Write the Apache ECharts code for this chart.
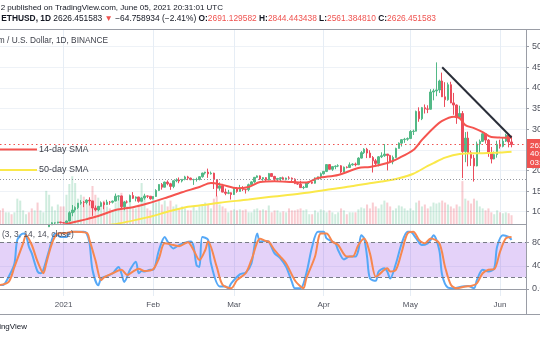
<!DOCTYPE html>
<html><head><meta charset="utf-8">
<script src="https://cdn.jsdelivr.net/npm/echarts@6/dist/echarts.min.js"></script>
<style>html,body{margin:0;padding:0;background:#fff}#c{width:540px;height:340px}</style>
</head><body><div id="c"></div>
<script>
// ---- Daily OHLC, 2020-12-10 .. 2021-06-05 ----
const opens = [
573,560,545,568,590,586,589,636,644,654,659,639,609,634,584,612,626,636,683,731,731,751,
737,729,774,975,1040,1100,1208,1225,1224,1281,1262,1090,1043,1130,1218,1171,1233,1230,1257,1377,1382,1121,1236,1234,1392,1324,1357,1253,1332,1382,1376,
1314,1369,1515,1660,1594,1718,1677,1614,1750,1769,1743,1785,1843,1815,1776,1781,1781,1848,1937,1960,1919,1935,1781,1570,1626,1475,1446,1459,
1416,1564,1492,1575,1541,1533,1654,1723,1834,1868,1793,1826,1772,1924,1855,1788,1806,1823,1782,1817,1813,1788,1681,1670,1584,1590,1703,1716,1691,1817,1846,
1919,1977,2142,2028,2093,2107,2113,1964,2080,2072,2136,2155,2139,2299,2432,2514,2422,2315,2235,2171,2331,2357,2397,2364,2211,2315,2535,2662,2747,2757,
2773,2945,2952,3431,3253,3522,3492,3484,3902,3928,3952,4168,3785,3715,4079,3638,3587,3282,3380,2460,2784,2430,2296,2110,2643,2706,2888,2736,2421,2278,2386,
2633,2584,2711,2856,2691];
const closes = [
560,545,568,590,586,589,636,644,654,659,639,609,634,584,612,626,636,683,731,731,751,737,
729,774,975,1040,1100,1208,1225,1224,1281,1262,1090,1043,1130,1218,1171,1233,1230,1257,1377,1382,1121,1236,1234,1392,1324,1357,1253,1332,1382,1376,1314,
1369,1515,1660,1594,1718,1677,1614,1750,1769,1743,1785,1843,1815,1776,1781,1781,1848,1937,1960,1919,1935,1781,1570,1626,1475,1446,1459,1416,
1564,1492,1575,1541,1533,1654,1723,1834,1868,1793,1826,1772,1924,1855,1788,1806,1823,1782,1817,1813,1788,1681,1670,1584,1590,1703,1716,1691,1817,1846,1919,
1977,2142,2028,2093,2107,2113,1964,2080,2072,2136,2155,2139,2299,2432,2514,2422,2315,2235,2171,2331,2357,2397,2364,2211,2315,2535,2662,2747,2757,2773,
2945,2952,3431,3253,3522,3492,3484,3902,3928,3952,4168,3785,3715,4079,3638,3587,3282,3380,2460,2784,2430,2296,2110,2643,2706,2888,2736,2421,2278,2386,2633,
2584,2711,2856,2691,2626];
const highs = [
576,562,573,597,592,594,638,676,662,667,660,647,637,639,614,629,647,703,745,737,753,754,
749,787,1011,1162,1130,1210,1280,1260,1300,1350,1262,1150,1140,1250,1245,1290,1260,1270,1440,1395,1390,1260,1275,1415,1475,1370,1360,1350,1435,1390,1380,
1375,1545,1665,1695,1730,1760,1700,1760,1810,1830,1790,1870,1870,1825,1800,1825,1860,1945,1967,2045,1975,1945,1785,1710,1675,1560,1530,1470,
1570,1600,1650,1620,1545,1680,1740,1840,1880,1880,1840,1840,1940,1930,1870,1820,1835,1850,1825,1860,1830,1810,1720,1750,1625,1710,1720,1730,1830,1850,1950,
1990,2150,2145,2100,2120,2150,2130,2095,2100,2195,2175,2190,2320,2470,2540,2547,2490,2350,2280,2350,2440,2640,2400,2380,2360,2550,2680,2760,2790,2800,
2980,2990,3450,3530,3540,3600,3580,3970,3980,4620,4200,4372,4140,4130,4150,3880,3600,3570,3440,2930,2940,2480,2380,2700,2750,2920,2890,2760,2570,2460,2720,
2745,2800,2890,2860,2844];
const lows = [
545,536,541,566,578,570,583,628,627,645,621,600,588,564,579,600,621,628,681,694,717,715,
717,715,768,890,986,1064,1168,1110,1180,1150,900,1008,1010,1115,1060,1160,1170,1200,1250,1270,1070,1035,1200,1230,1310,1250,1220,1250,1290,1330,1290,
1300,1360,1500,1535,1590,1640,1530,1570,1715,1690,1710,1760,1765,1765,1650,1730,1760,1825,1900,1820,1900,1550,1370,1510,1470,1400,1425,1295,
1405,1460,1485,1500,1440,1495,1640,1700,1820,1770,1750,1730,1760,1840,1730,1740,1730,1770,1760,1800,1740,1670,1650,1580,1545,1590,1670,1670,1680,1780,1780,
1900,1960,2020,1990,2030,2080,1930,1960,2050,2060,2115,2100,2130,2290,2400,2300,2300,1950,2100,2100,2300,2330,2000,2180,2150,2305,2530,2580,2670,2720,
2770,2860,2950,3180,3220,3380,3390,3480,3700,3800,3880,3780,3540,3690,3630,3350,3130,3280,1815,2200,2100,2110,1730,2100,2400,2690,2650,2330,2170,2270,2310,
2530,2560,2690,2560,2561];
const volumes = [
14,16,12,12,10,12,26,24,14,10,12,16,14,22,14,12,34,30,18,14,20,18,
18,30,41,49,42,26,30,28,22,24,39,30,27,20,24,18,16,14,22,29,32,24,18,22,16,16,20,42,27,16,14,
27,22,24,20,24,18,24,18,20,16,18,16,14,14,18,14,18,20,22,20,16,26,29,20,18,16,12,14,
15,14,15,14,15,12,12,15,16,14,15,14,19,12,14,14,12,13,12,16,14,14,15,16,14,15,10,10,14,12,15,
14,12,14,12,10,12,16,14,10,12,12,12,15,17,16,20,16,22,18,16,20,24,22,18,14,16,19,18,16,14,
16,14,22,24,18,20,16,18,22,21,22,24,22,20,18,16,20,18,44,26,24,21,26,24,18,16,14,16,12,10,14,
12,11,12,11,9];

// ---- moving averages ----
const sma14 = [['2020-12-20',590],['2020-12-30',650],['2021-01-03',720],['2021-01-09',820],['2021-01-13',895],
['2021-01-19',1040],['2021-01-25',1110],['2021-01-30',1200],['2021-02-05',1330],['2021-02-11',1470],['2021-02-17',1600],
['2021-02-21',1695],['2021-02-25',1650],['2021-03-02',1570],['2021-03-06',1600],['2021-03-10',1720],['2021-03-15',1740],
['2021-03-21',1720],['2021-03-26',1705],['2021-03-30',1815],['2021-04-06',1890],['2021-04-13',2060],['2021-04-17',2085],
['2021-04-23',2180],['2021-04-27',2300],['2021-05-02',2495],['2021-05-05',2740],['2021-05-09',3030],['2021-05-12',3200],
['2021-05-16',3300],['2021-05-18',3270],['2021-05-20',3100],['2021-05-23',3025],['2021-05-26',2930],['2021-05-29',2810],
['2021-06-01',2800],['2021-06-05',2790]];
const sma50 = [['2020-12-30',560],['2021-01-18',690],['2021-01-31',880],['2021-02-06',1000],['2021-02-13',1120],
['2021-02-17',1150],['2021-02-24',1218],['2021-03-06',1295],['2021-03-13',1355],['2021-03-24',1440],['2021-04-04',1550],
['2021-04-10',1610],['2021-04-16',1680],['2021-04-21',1730],['2021-04-27',1810],['2021-05-02',1920],['2021-05-07',2110],
['2021-05-09',2180],['2021-05-13',2310],['2021-05-18',2400],['2021-05-25',2420],['2021-06-01',2435],['2021-06-05',2455]];
const trendLine = [['2021-05-12',4500],['2021-06-05',2800]];
const lastPrice = 2626.45;
const supportLevel = 1775;
const priceTicks = [1000,1500,2000,2500,3000,3500,4000,4500,5000];

// ---- Stoch RSI (3,3,14,14) ----
const stochK = [['2020-12-10',6.6],['2020-12-11',6.6],['2020-12-13',21],['2020-12-15',44],['2020-12-16',85],['2020-12-18',96],
['2020-12-19',93],['2020-12-20',73],['2020-12-21',61.5],['2020-12-23',30],['2020-12-24',27],['2020-12-25',33],['2020-12-27',67],
['2020-12-29',96],['2020-12-30',93],['2020-12-31',90],['2021-01-02',90],['2021-01-03',97],['2021-01-05',99],['2021-01-08',99],
['2021-01-09',96],['2021-01-10',79],['2021-01-11',33],['2021-01-13',6],['2021-01-14',18],['2021-01-16',22],['2021-01-18',27],
['2021-01-20',38],['2021-01-21',27],['2021-01-22',12],['2021-01-24',33],['2021-01-26',47],['2021-01-27',27],['2021-01-28',31],
['2021-01-29',30],['2021-01-31',33],['2021-02-01',33],['2021-02-03',67],['2021-02-05',90],['2021-02-06',82],['2021-02-08',70],
['2021-02-10',76],['2021-02-12',80],['2021-02-14',82],['2021-02-15',73],['2021-02-16',41],['2021-02-17',38],['2021-02-18',90],
['2021-02-20',85],['2021-02-21',44],['2021-02-24',4],['2021-02-26',4],['2021-02-27',1],['2021-02-28',9.5],['2021-03-03',25],
['2021-03-05',28],['2021-03-07',44],['2021-03-09',96],['2021-03-10',82],['2021-03-12',83],['2021-03-13',82],['2021-03-15',61.5],
['2021-03-17',53],['2021-03-19',38],['2021-03-21',12],['2021-03-22',1],['2021-03-24',1],['2021-03-26',27],['2021-03-28',73],
['2021-03-30',99],['2021-04-01',99],['2021-04-02',87.5],['2021-04-05',79],['2021-04-06',67],['2021-04-08',51],['2021-04-10',56],
['2021-04-12',56],['2021-04-13',67],['2021-04-14',93],['2021-04-15',87.5],['2021-04-16',56],['2021-04-17',18],['2021-04-19',14],
['2021-04-20',30],['2021-04-22',35.5],['2021-04-23',30],['2021-04-24',18],['2021-04-26',44],['2021-04-28',79],['2021-04-30',99],
['2021-05-01',99],['2021-05-03',87.5],['2021-05-05',76],['2021-05-07',79],['2021-05-08',85],['2021-05-09',93],['2021-05-11',67],
['2021-05-12',24],['2021-05-14',2],['2021-05-16',1],['2021-05-19',4],['2021-05-21',5],['2021-05-23',1],['2021-05-24',15],
['2021-05-26',33],['2021-05-28',30],['2021-05-30',35.5],['2021-05-31',73],['2021-06-02',93],['2021-06-04',90],['2021-06-05',85]];
const stochD = [['2020-12-10',6.6],['2020-12-13',12],['2020-12-15',38],['2020-12-18',79],['2020-12-19',93],['2020-12-21',76],
['2020-12-23',47],['2020-12-25',27],['2020-12-26',44],['2020-12-28',79],['2020-12-30',96],['2021-01-02',97],['2021-01-04',99],
['2021-01-09',97],['2021-01-10',84],['2021-01-12',50],['2021-01-14',15],['2021-01-15',20],['2021-01-18',27],['2021-01-21',33],
['2021-01-23',24],['2021-01-25',30],['2021-01-27',35],['2021-01-29',31],['2021-02-01',34],['2021-02-03',53],['2021-02-05',79],
['2021-02-08',76],['2021-02-10',74],['2021-02-13',81],['2021-02-15',67],['2021-02-17',50],['2021-02-19',67],['2021-02-20',82],
['2021-02-23',38],['2021-02-25',7],['2021-02-28',1],['2021-03-02',15],['2021-03-05',27],['2021-03-07',50],['2021-03-10',87],
['2021-03-12',83],['2021-03-13',82],['2021-03-15',67],['2021-03-17',56],['2021-03-19',44],['2021-03-22',15],['2021-03-24',4],
['2021-03-25',1],['2021-03-26',18],['2021-03-29',56],['2021-03-31',96],['2021-04-02',96],['2021-04-04',82],['2021-04-06',76],
['2021-04-09',56],['2021-04-11',56],['2021-04-13',76],['2021-04-15',87.5],['2021-04-17',61.5],['2021-04-19',21],['2021-04-20',24],
['2021-04-23',35.5],['2021-04-24',30],['2021-04-26',33],['2021-04-28',64],['2021-04-30',96],['2021-05-02',99],['2021-05-04',85],
['2021-05-06',79],['2021-05-08',87.5],['2021-05-11',79],['2021-05-13',38],['2021-05-15',7],['2021-05-17',1],['2021-05-20',4],
['2021-05-22',5],['2021-05-24',9.5],['2021-05-26',27],['2021-05-28',33],['2021-05-30',34],['2021-06-01',64],['2021-06-03',87.5],
['2021-06-05',90]];
const stochTicks = [0,40,80];

// ---- calendar (category axis) ----
const dates = [];
for (let i = 0; i < 183; i++) dates.push(new Date(Date.UTC(2020, 11, 10 + i)).toISOString().slice(0, 10));
const monthLabel = {'01':'2021','02':'Feb','03':'Mar','04':'Apr','05':'May','06':'Jun'};
const isMonthStart = (i, v) => String(v).slice(8) === '01';

const UP = '#53b987', DN = '#eb4d5c';
const FONT = "'Liberation Sans', Arial, sans-serif";
const candleData = opens.map((o, i) => [o, closes[i], lows[i], highs[i]]);
const volData = volumes.map((v, i) => ({value: v, itemStyle: {color: closes[i] >= opens[i] ? 'rgba(83,185,135,0.28)' : 'rgba(235,77,92,0.28)'}}));

const GRID_C = '#e6edf5', AX_C = '#9a9da6', TXT = '#131722', LBL = '#50535e', RED = '#ef5350';
function txt(x, y, s, o) {
  return Object.assign({type: 'text', x: x, y: y, z: 100, silent: true,
    style: Object.assign({text: s, fontFamily: FONT, fontSize: 9, fill: TXT, align: 'left', verticalAlign: 'middle'}, o || {})});
}
function ln(x1, y1, x2, y2, c, w) {
  return {type: 'line', z: 99, silent: true, shape: {x1: x1, y1: y1, x2: x2, y2: y2}, style: {stroke: c, lineWidth: w || 1}};
}

const chart = echarts.init(document.getElementById('c'), null, {renderer: 'canvas'});
chart.setOption({
  animation: false,
  backgroundColor: '#ffffff',
  textStyle: {fontFamily: FONT},
  grid: [{left: 0, right: 14, top: 29, bottom: 116, containLabel: false, outerBoundsMode: 'none'},
         {left: 0, right: 14, top: 224, bottom: 44, containLabel: false, outerBoundsMode: 'none'}],
  xAxis: [
    {type: 'category', gridIndex: 0, data: dates, boundaryGap: false,
     axisLine: {show: false}, axisTick: {show: false}, axisLabel: {show: false},
     splitLine: {show: true, interval: isMonthStart, lineStyle: {color: GRID_C}}},
    {type: 'category', gridIndex: 1, data: dates, boundaryGap: false,
     axisLine: {show: true, lineStyle: {color: AX_C}}, axisTick: {show: false},
     axisLabel: {interval: isMonthStart, formatter: v => monthLabel[v.slice(5, 7)], fontSize: 8, color: LBL, margin: 5, fontFamily: FONT},
     splitLine: {show: true, interval: isMonthStart, lineStyle: {color: GRID_C}}}
  ],
  yAxis: [
    {type: 'value', gridIndex: 0, position: 'right', min: 702, max: 5429,
     axisLine: {show: false},
     axisTick: {show: true, length: 3, customValues: priceTicks, lineStyle: {color: AX_C}},
     axisLabel: {customValues: priceTicks, formatter: v => v.toFixed(6), fontSize: 9, color: LBL, margin: 6, fontFamily: FONT},
     splitLine: {show: true, lineStyle: {color: '#eef2f7'}}},
    {type: 'value', gridIndex: 0, min: 0, max: 200, show: false, splitLine: {show: false}},
    {type: 'value', gridIndex: 1, position: 'right', min: -12.5, max: 112.5,
     axisLine: {show: false},
     axisTick: {show: true, length: 3, customValues: stochTicks, lineStyle: {color: AX_C}},
     axisLabel: {customValues: stochTicks, formatter: v => v.toFixed(2), fontSize: 9, color: LBL, margin: 6, fontFamily: FONT},
     splitLine: {show: true, lineStyle: {color: '#eef2f7'}}}
  ],
  series: [
    {type: 'bar', xAxisIndex: 0, yAxisIndex: 1, data: volData, barWidth: '70%', z: 1, silent: true},
    {type: 'candlestick', xAxisIndex: 0, yAxisIndex: 0, data: candleData, barWidth: 2, z: 3, silent: true,
     itemStyle: {color: UP, color0: DN, borderColor: UP, borderColor0: DN, borderWidth: 1},
     markLine: {silent: true, symbol: 'none', label: {show: false}, animation: false,
       data: [{yAxis: lastPrice, lineStyle: {color: RED, type: [1.5, 3], width: 1.2}},
              {yAxis: supportLevel, lineStyle: {color: '#9598a1', type: [1, 2], width: 1}}]}},
    {type: 'line', xAxisIndex: 0, yAxisIndex: 0, data: sma14, showSymbol: false, smooth: 0.3, z: 4, silent: true,
     lineStyle: {color: '#f5544f', width: 2}},
    {type: 'line', xAxisIndex: 0, yAxisIndex: 0, data: sma50, showSymbol: false, smooth: 0.3, z: 4, silent: true,
     lineStyle: {color: '#fae84a', width: 2}},
    {type: 'line', xAxisIndex: 0, yAxisIndex: 0, data: trendLine, showSymbol: false, z: 5, silent: true,
     lineStyle: {color: '#2a2e39', width: 2}},
    {type: 'line', xAxisIndex: 1, yAxisIndex: 2, data: stochK, showSymbol: false, smooth: 0.3, z: 4, silent: true,
     lineStyle: {color: '#55a8f7', width: 2},
     markArea: {silent: true, itemStyle: {color: 'rgba(149,76,233,0.25)'}, data: [[{yAxis: 20}, {yAxis: 80}]]},
     markLine: {silent: true, symbol: 'none', label: {show: false},
       lineStyle: {color: '#787b86', type: [4, 3], width: 1}, data: [{yAxis: 80}, {yAxis: 20}]}},
    {type: 'line', xAxisIndex: 1, yAxisIndex: 2, data: stochD, showSymbol: false, smooth: 0.3, z: 5, silent: true,
     lineStyle: {color: '#f7874f', width: 2}}
  ],
  graphic: [
    ln(0, 29.5, 540, 29.5, AX_C),
    ln(526.5, 29, 526.5, 314, AX_C),
    ln(0, 224.5, 526, 224.5, AX_C),
    ln(0, 314.5, 540, 314.5, AX_C),
    // header
    txt(223, 7.5, '2 published on TradingView.com, June 05, 2021 20:31:01 UTC', {align: 'right', fontSize: 8.0}),
    {type: 'text', x: 436, y: 19, z: 100, silent: true, style: {
      text: '{b|ETHUSD, 1D} 2626.451583 {r|\u25BC} \u221264.758934 (\u22122.41%) {b|O:}{r|2691.129582} {b|H:}{r|2844.443438} {b|L:}{r|2561.384810} {b|C:}{r|2626.451583}',
      fontFamily: FONT, fontSize: 8.4, fill: TXT, align: 'right', verticalAlign: 'middle',
      rich: {b: {fontWeight: 'bold', fontSize: 8.4, fontFamily: FONT, fill: TXT}, r: {fill: RED, fontSize: 8.4, fontFamily: FONT}}}},
    txt(108, 41, 'Ethereum / U.S. Dollar, 1D, BINANCE', {align: 'right', fontSize: 8.3, fill: '#3b3e48'}),
    // legend
    ln(0, 149.5, 37, 149.5, '#f5544f', 2),
    txt(39, 149.5, '14-day SMA', {fill: '#3b3e48'}),
    ln(0, 170, 37, 170, '#fae84a', 2),
    txt(39, 170, '50-day SMA', {fill: '#3b3e48'}),
    // stoch label
    txt(2, 235, '(3, 3, 14, 14, close)', {fontSize: 8.4, fill: LBL}),
    // price label
    {type: 'rect', z: 100, silent: true, shape: {x: 527, y: 139, width: 13, height: 29}, style: {fill: RED}},
    txt(530, 145.5, '2626.451583', {fill: '#fff', fontSize: 8}),
    txt(530, 154, '40:28', {fill: '#fff', fontSize: 8}),
    txt(530, 163, '03:28:59', {fill: '#fff', fontSize: 8}),
    // footer
    txt(27, 327, 'TradingView', {align: 'right', fontSize: 8})
  ]
});
</script>
</body></html>
